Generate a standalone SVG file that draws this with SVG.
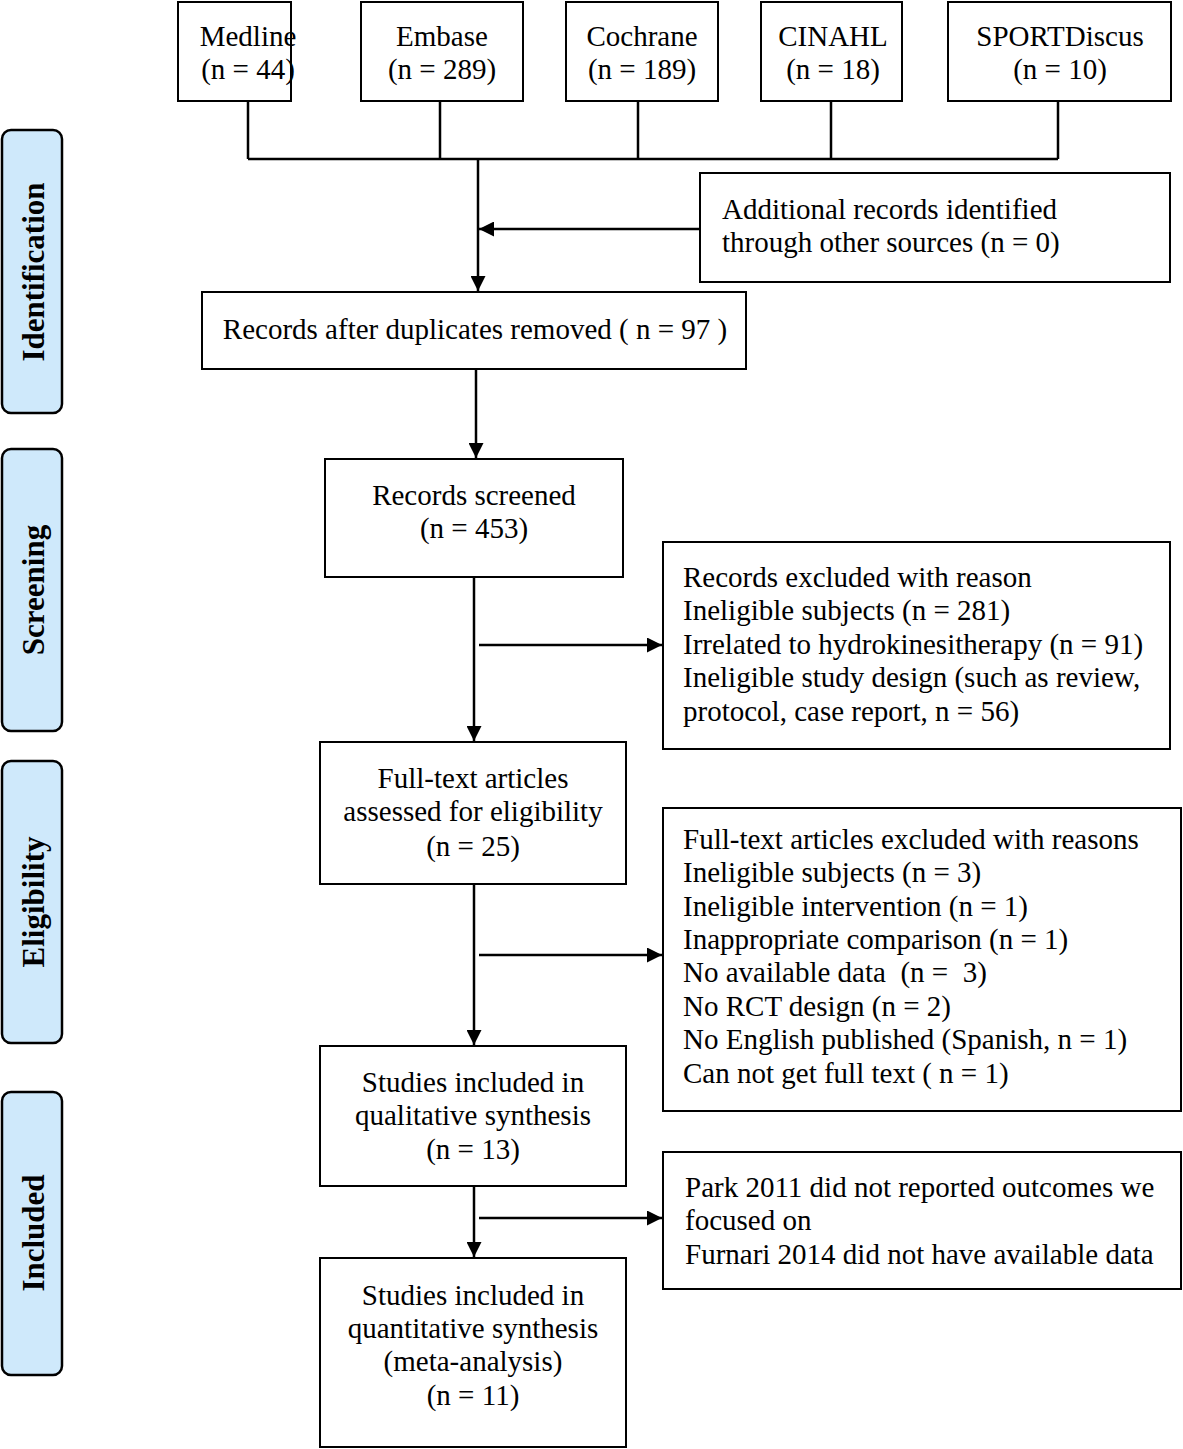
<svg xmlns="http://www.w3.org/2000/svg" width="1183" height="1449" viewBox="0 0 1183 1449">
<defs>
<style>
.b{fill:#fff;stroke:#000;stroke-width:2}
.s{fill:#cfe9fb;stroke:#000;stroke-width:2.5}
.t{font-family:"Liberation Serif","Times New Roman",serif;font-size:29px;fill:#000}
.c{text-anchor:middle}
.st{font-family:"Liberation Serif","Times New Roman",serif;font-size:31px;font-weight:bold;fill:#000;text-anchor:middle}
.l{stroke:#000;stroke-width:2.5;fill:none}
</style>
<marker id="a" viewBox="0 0 10 10" refX="10" refY="5" markerWidth="6" markerHeight="6" markerUnits="strokeWidth" orient="auto"><path d="M0,0L10,5L0,10z" fill="#000"/></marker>
</defs>
<rect width="1183" height="1449" fill="#fff"/>
<g id="stage-identification"><rect class="s" x="2" y="130" width="60" height="283" rx="9"/><text class="st" transform="translate(44,272) rotate(-90)">Identification</text></g>
<g id="stage-screening"><rect class="s" x="2" y="449" width="60" height="282" rx="9"/><text class="st" transform="translate(44,590) rotate(-90)">Screening</text></g>
<g id="stage-eligibility"><rect class="s" x="2" y="761" width="60" height="282" rx="9"/><text class="st" transform="translate(44,902) rotate(-90)">Eligibility</text></g>
<g id="stage-included"><rect class="s" x="2" y="1092" width="60" height="283" rx="9"/><text class="st" transform="translate(44,1233) rotate(-90)">Included</text></g>

<g id="medline"><rect class="b" x="178" y="2" width="113" height="99"/><text class="t c" x="248" y="46">Medline</text><text class="t c" x="248" y="79">(n = 44)</text></g>
<g id="embase"><rect class="b" x="361" y="2" width="162" height="99"/><text class="t c" x="442" y="46">Embase</text><text class="t c" x="442" y="79">(n = 289)</text></g>
<g id="cochrane"><rect class="b" x="566" y="2" width="152" height="99"/><text class="t c" x="642" y="46">Cochrane</text><text class="t c" x="642" y="79">(n = 189)</text></g>
<g id="cinahl"><rect class="b" x="761" y="2" width="141" height="99"/><text class="t c" x="833" y="46">CINAHL</text><text class="t c" x="833" y="79">(n = 18)</text></g>
<g id="sportdiscus"><rect class="b" x="948" y="2" width="223" height="99"/><text class="t c" x="1060" y="46">SPORTDiscus</text><text class="t c" x="1060" y="79">(n = 10)</text></g>

<g id="additional"><rect class="b" x="700" y="173" width="470" height="109"/><text class="t" x="722" y="219">Additional records identified</text><text class="t" x="722" y="252">through other sources (n = 0)</text></g>
<g id="duplicates"><rect class="b" x="202" y="292" width="544" height="77"/><text class="t c" x="475" y="339">Records after duplicates removed ( n = 97 )</text></g>
<g id="screened"><rect class="b" x="325" y="459" width="298" height="118"/><text class="t c" x="474" y="505">Records screened</text><text class="t c" x="474" y="538">(n = 453)</text></g>
<g id="excluded"><rect class="b" x="663" y="542" width="507" height="207"/>
<text class="t" x="683" y="587">Records excluded with reason</text>
<text class="t" x="683" y="620">Ineligible subjects (n = 281)</text>
<text class="t" x="683" y="654">Irrelated to hydrokinesitherapy (n = 91)</text>
<text class="t" x="683" y="687">Ineligible study design (such as review,</text>
<text class="t" x="683" y="721">protocol, case report, n = 56)</text></g>
<g id="fulltext"><rect class="b" x="320" y="742" width="306" height="142"/><text class="t c" x="473" y="788">Full-text articles</text><text class="t c" x="473" y="821">assessed for eligibility</text><text class="t c" x="473" y="856">(n = 25)</text></g>
<g id="ft-excluded"><rect class="b" x="663" y="808" width="518" height="303"/>
<text class="t" x="683" y="849">Full-text articles excluded with reasons</text>
<text class="t" x="683" y="882">Ineligible subjects (n = 3)</text>
<text class="t" x="683" y="916">Ineligible intervention (n = 1)</text>
<text class="t" x="683" y="949">Inappropriate comparison (n = 1)</text>
<text class="t" x="683" y="982" xml:space="preserve">No available data  (n =  3)</text>
<text class="t" x="683" y="1016">No RCT design (n = 2)</text>
<text class="t" x="683" y="1049">No English published (Spanish, n = 1)</text>
<text class="t" x="683" y="1083">Can not get full text ( n = 1)</text></g>
<g id="qualitative"><rect class="b" x="320" y="1046" width="306" height="140"/><text class="t c" x="473" y="1092">Studies included in</text><text class="t c" x="473" y="1125">qualitative synthesis</text><text class="t c" x="473" y="1159">(n = 13)</text></g>
<g id="park"><rect class="b" x="663" y="1152" width="518" height="137"/>
<text class="t" x="685" y="1197">Park 2011 did not reported outcomes we</text>
<text class="t" x="685" y="1230">focused on</text>
<text class="t" x="685" y="1264">Furnari 2014 did not have available data</text></g>
<g id="quantitative"><rect class="b" x="320" y="1258" width="306" height="189"/><text class="t c" x="473" y="1305">Studies included in</text><text class="t c" x="473" y="1338">quantitative synthesis</text><text class="t c" x="473" y="1371">(meta-analysis)</text><text class="t c" x="473" y="1405">(n = 11)</text></g>

<g id="connectors">
<path class="l" d="M248,101V159M440,101V159M638,101V159M831,101V159M1058,101V159M248,159H1058"/>
<line class="l" x1="478" y1="159" x2="478" y2="291" marker-end="url(#a)"/>
<line class="l" x1="700" y1="229" x2="479" y2="229" marker-end="url(#a)"/>
<line class="l" x1="476" y1="369" x2="476" y2="458" marker-end="url(#a)"/>
<line class="l" x1="474" y1="577" x2="474" y2="741" marker-end="url(#a)"/>
<line class="l" x1="479" y1="645" x2="662" y2="645" marker-end="url(#a)"/>
<line class="l" x1="474" y1="884" x2="474" y2="1045" marker-end="url(#a)"/>
<line class="l" x1="479" y1="955" x2="662" y2="955" marker-end="url(#a)"/>
<line class="l" x1="474" y1="1186" x2="474" y2="1257" marker-end="url(#a)"/>
<line class="l" x1="479" y1="1218" x2="662" y2="1218" marker-end="url(#a)"/>
</g>
</svg>
